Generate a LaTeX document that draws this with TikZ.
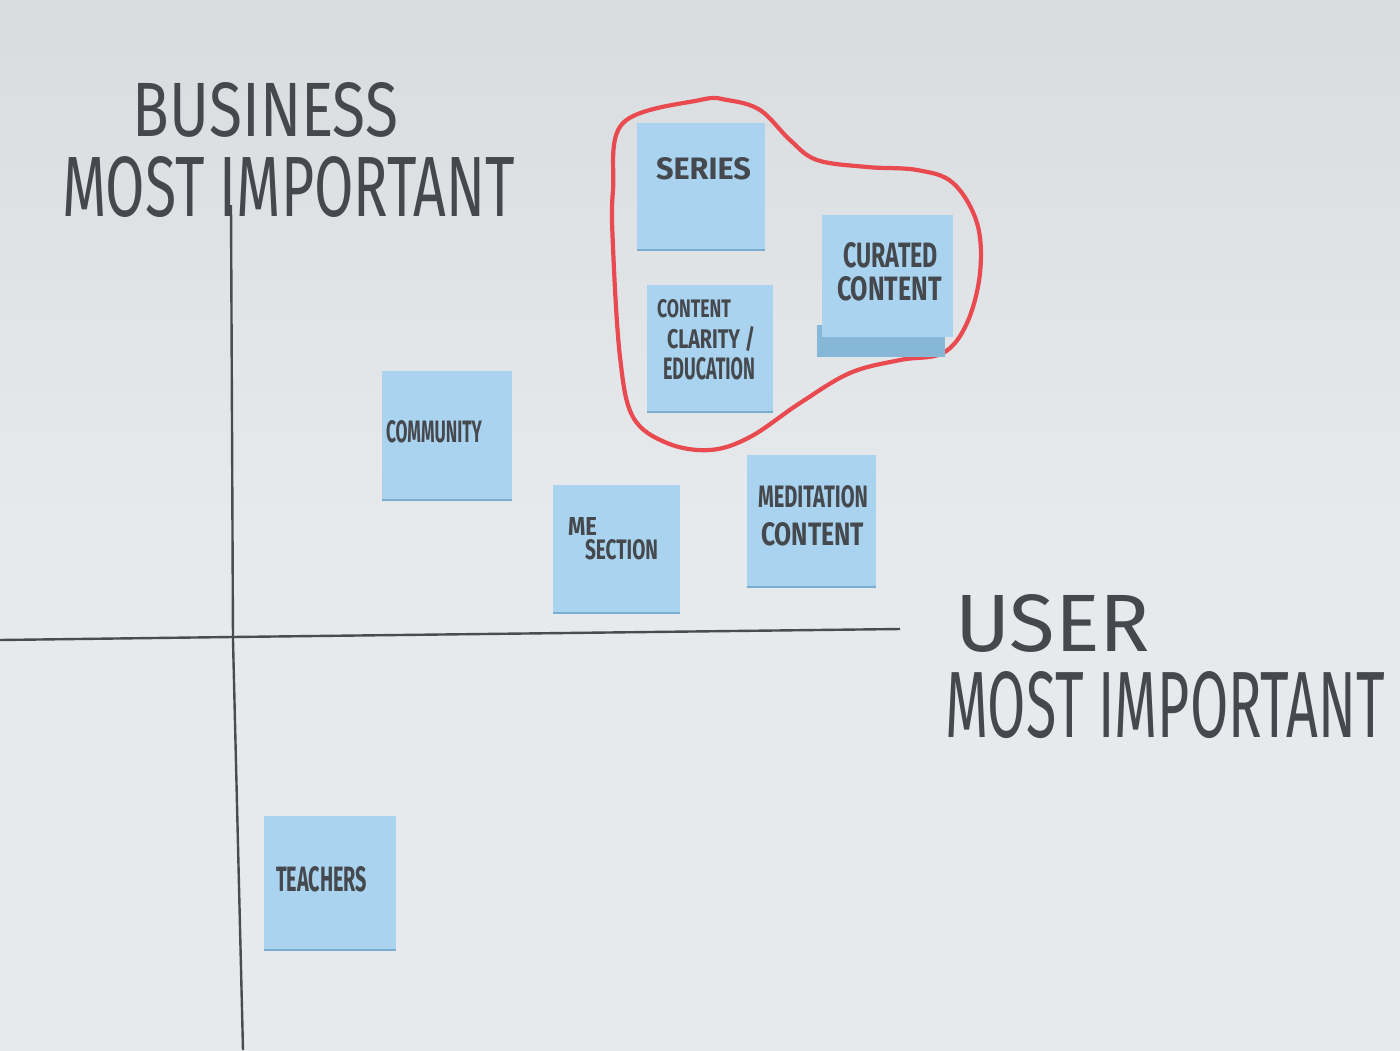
\documentclass[tikz,border=0pt]{standalone}
\usepackage{fontspec}
\setmainfont{Fira Sans}
\usepackage{graphicx}
\definecolor{board}{HTML}{E7EAED}
\definecolor{boardtop}{HTML}{D9DCDF}
\definecolor{noteblue}{HTML}{A9D3EE}
\definecolor{noteedge}{HTML}{7AAED0}
\definecolor{shadowblue}{HTML}{86B7D7}
\definecolor{ink}{HTML}{45484D}
\definecolor{axisink}{HTML}{4A4C50}
\definecolor{redink}{HTML}{E84A4F}
\newcommand{\fitxt}[3]{\resizebox{#1pt}{#2pt}{#3}}
\begin{document}
\begin{tikzpicture}[x=1pt,y=-1pt,
  note/.style={fill=noteblue,draw=none,inner sep=0pt},
  edge/.style={draw=noteedge,line width=2.5pt},
  lab/.style={text=ink,inner sep=0pt,font=\fontsize{40}{40}\selectfont},
  nlab/.style={text=ink,inner sep=0pt,font=\bfseries\fontsize{20}{20}\selectfont},
  axis/.style={draw=axisink,line width=2.4pt},
  loop/.style={draw=redink,line width=4.2pt}]
\useasboundingbox (0,0) rectangle (1400,1050);
\shade[top color=boardtop,bottom color=board,middle color=board] (0,0) rectangle (1400,1050);

% axes
\coordinate (vtop) at (231,205);
\coordinate (vbot) at (243,1050);
\coordinate (hl) at (0,640);
\coordinate (hr) at (900,629);
\draw[axis] (vtop) -- (233,640) -- (vbot);
\draw[axis] (hl) -- (232,637) -- (hr);

% axis labels
\node[lab] (business) at (265.5,110) {\fitxt{265}{54}{BUSINESS}};
\node[lab] (bmost) at (288.5,187) {\fitxt{453}{60}{MOST IMPORTANT}};
\node[lab] (user) at (1052.5,623.5) {\fitxt{195}{57}{USER}};
\node[lab] (umost) at (1165,705) {\fitxt{440}{66}{MOST IMPORTANT}};

% red loop
\draw[loop] plot[smooth cycle,tension=0.6] coordinates {
 (700,100) (623,123) (613,190) (613,247) (620,357) (633,417) (667,443)
 (710,450) (750,437) (800,403) (850,373) (900,360) (943,353) (967,323)
 (980,273) (977,223) (953,183) (917,170) (867,167) (817,160) (790,140)
 (760,110) (727,100)};

% sticky notes
\node[note,minimum width=128pt,minimum height=127pt] (series) at (701,186.5) {};
\draw[edge] (series.south west) -- (series.south east);
\node[nlab] (seriest) at (703.5,169) {\fitxt{95}{22}{SERIES}};

\fill[shadowblue] (817,325) rectangle (945,357);
\node[note,minimum width=131pt,minimum height=122pt] (curated) at (887.5,276) {};
\node[nlab] (curt1) at (890.5,255.5) {\fitxt{95}{25}{CURATED}};
\node[nlab] (curt2) at (889.5,289) {\fitxt{105}{24}{CONTENT}};

\node[note,minimum width=126pt,minimum height=127pt] (clarity) at (710,348.5) {};
\draw[edge] (clarity.south west) -- (clarity.south east);
\node[nlab] (clt1) at (694,309) {\fitxt{74}{18}{CONTENT}};
\node[nlab] (clt2) at (711,339) {\fitxt{88}{22}{CLARITY /}};
\node[nlab] (clt3) at (709,369) {\fitxt{92}{22}{EDUCATION}};

\node[note,minimum width=130pt,minimum height=129pt] (community) at (447,435.5) {};
\draw[edge] (community.south west) -- (community.south east);
\node[nlab] (comt) at (434,432) {\fitxt{96}{22}{COMMUNITY}};

\node[note,minimum width=127pt,minimum height=128pt] (me) at (616.5,549) {};
\draw[edge] (me.south west) -- (me.south east);
\node[nlab] (met1) at (582.5,526) {\fitxt{29}{18}{ME}};
\node[nlab] (met2) at (621.5,550) {\fitxt{73}{20}{SECTION}};

\node[note,minimum width=129pt,minimum height=132pt] (meditation) at (811.5,521) {};
\draw[edge] (meditation.south west) -- (meditation.south east);
\node[nlab] (medt1) at (813,497) {\fitxt{110}{22}{MEDITATION}};
\node[nlab] (medt2) at (812.5,534.5) {\fitxt{103}{23}{CONTENT}};

\node[note,minimum width=132pt,minimum height=134pt] (teachers) at (330,883) {};
\draw[edge] (teachers.south west) -- (teachers.south east);
\node[nlab] (teat) at (321.5,879.5) {\fitxt{91}{25}{TEACHERS}};
\end{tikzpicture}
\end{document}
